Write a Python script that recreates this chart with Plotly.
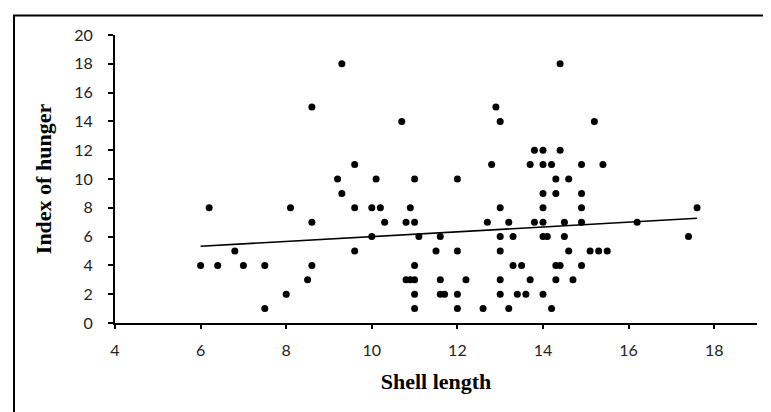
import plotly.graph_objects as go

shell_length = [
    6.0, 6.2, 6.4, 6.8, 7.0, 7.5, 7.5, 8.0, 8.1, 8.5, 8.6, 8.6, 8.6,
    9.2, 9.3, 9.3, 9.6, 9.6, 9.6, 10.0, 10.0, 10.1, 10.2, 10.3,
    10.7, 10.8, 10.8, 10.9, 10.9, 11.0, 11.0, 11.0, 11.0, 11.0, 11.0, 11.1,
    11.5, 11.6, 11.6, 11.6, 11.7, 12.0, 12.0, 12.0, 12.0, 12.2,
    12.6, 12.7, 12.8, 12.9, 13.0, 13.0, 13.0, 13.0, 13.0, 13.0,
    13.2, 13.2, 13.3, 13.3, 13.4, 13.5, 13.6, 13.7, 13.7, 13.8, 13.8,
    14.0, 14.0, 14.0, 14.0, 14.0, 14.0, 14.0, 14.1, 14.2, 14.2,
    14.3, 14.3, 14.3, 14.3, 14.4, 14.4, 14.4, 14.5, 14.5, 14.6, 14.6, 14.7,
    14.9, 14.9, 14.9, 14.9, 14.9, 15.1, 15.2, 15.3, 15.4, 15.5,
    16.2, 17.4, 17.6,
]
hunger_index = [
    4, 8, 4, 5, 4, 4, 1, 2, 8, 3, 15, 7, 4,
    10, 18, 9, 11, 8, 5, 8, 6, 10, 8, 7,
    14, 7, 3, 8, 3, 10, 7, 4, 3, 2, 1, 6,
    5, 6, 3, 2, 2, 10, 5, 2, 1, 3,
    1, 7, 11, 15, 14, 8, 6, 5, 3, 2,
    7, 1, 6, 4, 2, 4, 2, 11, 3, 12, 7,
    12, 11, 9, 8, 7, 6, 2, 6, 11, 1,
    10, 9, 4, 3, 18, 12, 4, 7, 6, 10, 5, 3,
    11, 9, 8, 7, 4, 5, 14, 5, 11, 5,
    7, 6, 8,
]
trend_x = [6.0, 17.6]
trend_y = [5.33, 7.27]

x_ticks = [4, 6, 8, 10, 12, 14, 16, 18]
y_ticks = [0, 2, 4, 6, 8, 10, 12, 14, 16, 18, 20]

fig = go.Figure()
fig.add_trace(go.Scatter(
    x=shell_length, y=hunger_index, mode="markers",
    marker=dict(color="black", size=7, line=dict(width=0)),
    showlegend=False, cliponaxis=False,
))
fig.add_trace(go.Scatter(
    x=trend_x, y=trend_y, mode="lines",
    line=dict(color="black", width=1.6),
    showlegend=False,
))

tick_font = dict(family="Lato, Open Sans, sans-serif", size=16, color="#222")
title_font = dict(family="Liberation Serif, Times New Roman, serif", size=22, color="black")

fig.update_layout(
    width=771, height=412,
    margin=dict(l=107, r=22, t=27, b=97),
    paper_bgcolor="white", plot_bgcolor="white",
    xaxis=dict(
        range=[4, 19], tickvals=x_ticks, ticktext=[str(v) for v in x_ticks],
        showgrid=False, zeroline=False, showline=True, linecolor="black", linewidth=2,
        ticks="outside", ticklen=4, tickwidth=2, tickcolor="black",
        tickfont=tick_font, ticklabelstandoff=8,
        title=dict(text="<b>Shell length</b>", font=title_font, standoff=15),
    ),
    yaxis=dict(
        range=[0, 20], tickvals=y_ticks, ticktext=[str(v) for v in y_ticks],
        showgrid=False, zeroline=False, showline=True, linecolor="black", linewidth=2,
        ticks="outside", ticklen=5, tickwidth=2, tickcolor="black",
        tickfont=tick_font, ticklabelstandoff=12,
        title=dict(text="<b>Index of hunger</b>", font=title_font, standoff=17),
    ),
    shapes=[dict(
        type="rect", xref="paper", yref="paper",
        x0=-0.1573, x1=1.04, y0=-0.36, y1=1.0677,
        line=dict(color="black", width=2), fillcolor="rgba(0,0,0,0)", layer="above",
    )],
)

fig.write_html("out.html")
